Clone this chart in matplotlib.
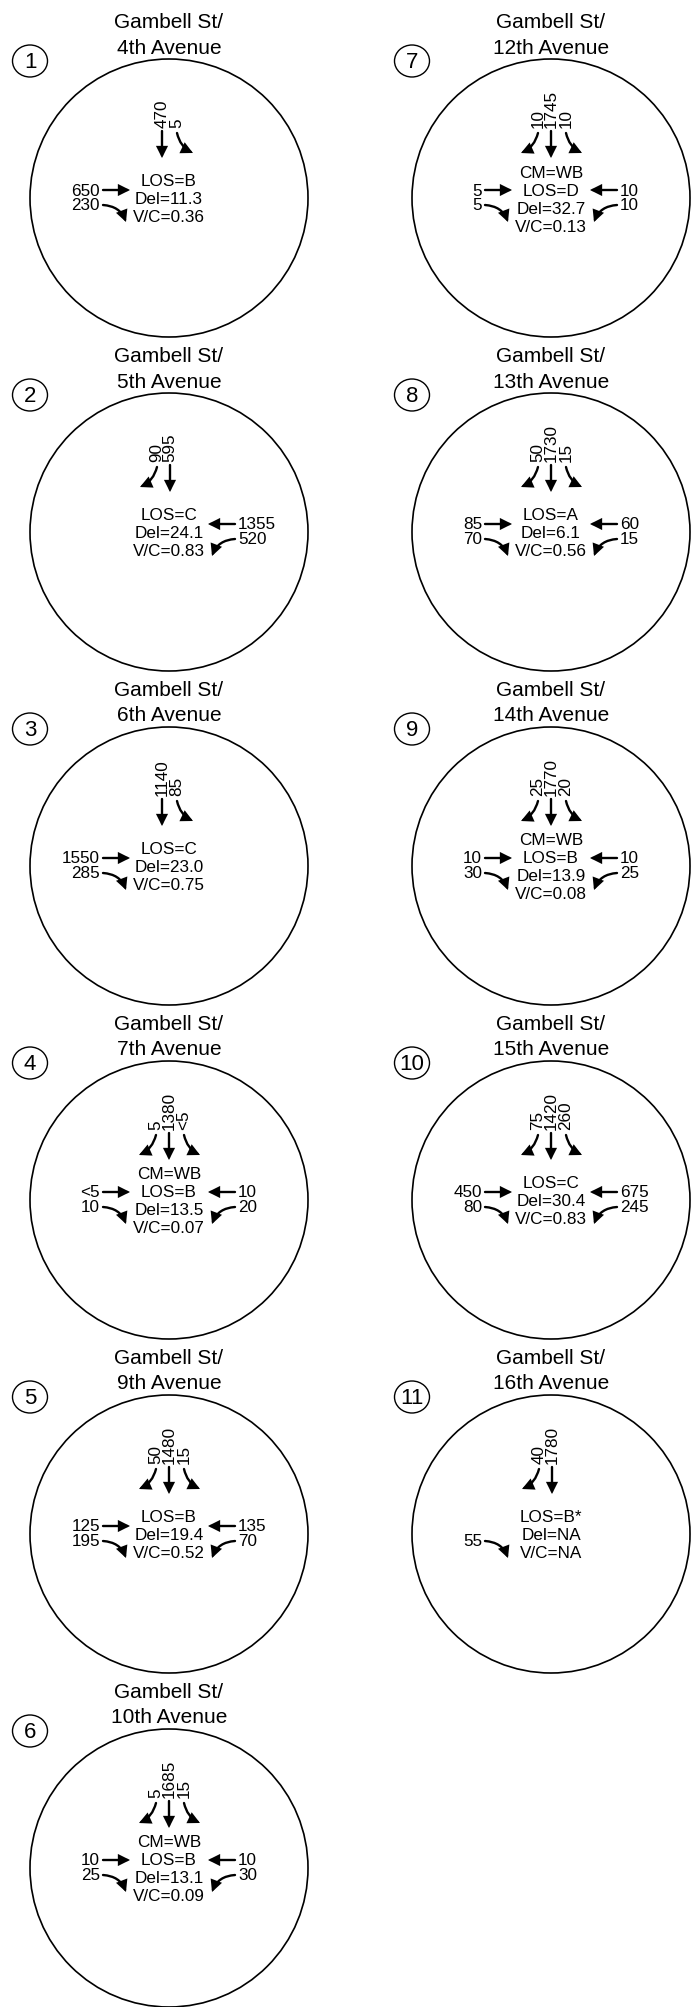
import matplotlib
matplotlib.use("Agg")
import matplotlib.pyplot as plt
from matplotlib import font_manager
from matplotlib.patches import Circle, Ellipse, FancyArrowPatch

# ---------------- data ----------------
panel_ids = [1, 2, 3, 4, 5, 6, 7, 8, 9, 10, 11]
street = "Gambell St/"
avenues = ["4th Avenue", "5th Avenue", "6th Avenue", "7th Avenue", "9th Avenue",
           "10th Avenue", "12th Avenue", "13th Avenue", "14th Avenue",
           "15th Avenue", "16th Avenue"]
# southbound approach (top): left-curving, through, right-curving
sb_left = ["", "90", "", "5", "50", "5", "10", "50", "25", "75", "40"]
sb_thru = ["470", "595", "1140", "1380", "1480", "1685", "1745", "1730", "1770", "1420", "1780"]
sb_right = ["5", "", "85", "<5", "15", "15", "10", "15", "20", "260", ""]
# eastbound approach (left side): through, right turn
eb_thru = ["650", "", "1550", "<5", "125", "10", "5", "85", "10", "450", ""]
eb_right = ["230", "", "285", "10", "195", "25", "5", "70", "30", "80", "55"]
# westbound approach (right side): through, left turn
wb_thru = ["", "1355", "", "10", "135", "10", "10", "60", "10", "675", ""]
wb_left = ["", "520", "", "20", "70", "30", "10", "15", "25", "245", ""]
# results
cm = ["", "", "", "WB", "", "WB", "WB", "", "WB", "", ""]
los = ["B", "C", "C", "B", "B", "B", "D", "A", "B", "C", "B*"]
delay = ["11.3", "24.1", "23.0", "13.5", "19.4", "13.1", "32.7", "6.1", "13.9", "30.4", "NA"]
vc = ["0.36", "0.83", "0.75", "0.07", "0.52", "0.09", "0.13", "0.56", "0.08", "0.83", "NA"]

# ---------------- fonts ----------------
names = {f.name for f in font_manager.fontManager.ttflist}
NARROW = "Liberation Sans Narrow" if "Liberation Sans Narrow" in names else "Liberation Sans"
REG = "Liberation Sans"

W, H = 698, 2008
fig = plt.figure(figsize=(W / 100, H / 100), dpi=100)
ax = fig.add_axes([0, 0, 1, 1])
ax.set_xlim(0, W)
ax.set_ylim(H, 0)
ax.axis("off")

R = 139
PITCH = 334
COL_X = [169, 551]
ARROW = "-|>,head_length=0.6,head_width=0.3"
LW = 1.7
MS = 10
RAD_SB = 0.24
RAD_SIDE = 0.32


def arrow(p0, p1, rad=0.0):
    a = FancyArrowPatch(p0, p1, arrowstyle=ARROW, mutation_scale=MS,
                        connectionstyle=f"arc3,rad={rad}", lw=LW, color="black",
                        shrinkA=0, shrinkB=0, joinstyle="miter")
    ax.add_patch(a)


def small_text(x, y, s, **kw):
    ax.text(x, y, s, fontsize=12.3, family=NARROW, color="black", **kw)


for i, pid in enumerate(panel_ids):
    col = 0 if i < 6 else 1
    row = i if i < 6 else i - 6
    cx = COL_X[col]
    top = row * PITCH
    cy = top + 199

    # title
    ax.text(cx, top + 23, street, ha="center", va="center", fontsize=15, family=REG)
    ax.text(cx, top + 48, avenues[i], ha="center", va="center", fontsize=15, family=REG)
    # index bubble
    ax.add_patch(Ellipse((cx - R, top + 62), 35, 32, fill=False, lw=1.0, color="black"))
    ax.text(cx - R, top + 63, str(pid), ha="center", va="center", fontsize=16, family=NARROW)
    # main circle
    ax.add_patch(Circle((cx, cy), R, fill=False, lw=1.2, color="black"))

    # centre results
    lines = []
    if cm[i]:
        lines.append("CM=" + cm[i])
    lines += ["LOS=" + los[i], "Del=" + delay[i], "V/C=" + vc[i]]
    n = len(lines)
    sp = 18
    for k, s in enumerate(lines):
        small_text(cx, cy + 1 + (k - (n - 1) / 2) * sp, s, ha="center", va="center")

    # southbound movements
    has = [bool(sb_left[i]), bool(sb_thru[i]), bool(sb_right[i])]
    shift = 0
    if not has[0] and has[2]:
        shift = -7
    elif has[0] and not has[2]:
        shift = 1
    slots = [-13 + shift, 0 + shift, 15 + shift]
    if has[0]:
        lx = cx + slots[0]
        small_text(lx, cy - 71, sb_left[i], rotation=90, ha="center", va="bottom")
        arrow((lx, cy - 65), (lx - 17, cy - 45), rad=-RAD_SB)
    if has[1]:
        lx = cx + slots[1]
        small_text(lx, cy - 71, sb_thru[i], rotation=90, ha="center", va="bottom")
        arrow((lx, cy - 67), (lx, cy - 40))
    if has[2]:
        lx = cx + slots[2]
        small_text(lx, cy - 71, sb_right[i], rotation=90, ha="center", va="bottom")
        arrow((lx, cy - 65), (lx + 16, cy - 45), rad=RAD_SB)

    # eastbound (left side)
    if eb_thru[i]:
        small_text(cx - 69, cy - 8, eb_thru[i], ha="right", va="center")
        arrow((cx - 66, cy - 8), (cx - 39, cy - 8))
    if eb_right[i]:
        small_text(cx - 69, cy + 7, eb_right[i], ha="right", va="center")
        arrow((cx - 66, cy + 7), (cx - 43, cy + 24), rad=-RAD_SIDE)

    # westbound (right side)
    if wb_thru[i]:
        small_text(cx + 69, cy - 8, wb_thru[i], ha="left", va="center")
        arrow((cx + 66, cy - 8), (cx + 39, cy - 8))
    if wb_left[i]:
        small_text(cx + 69, cy + 7, wb_left[i], ha="left", va="center")
        arrow((cx + 66, cy + 7), (cx + 43, cy + 24), rad=RAD_SIDE)

fig.savefig("out.png", dpi=100, facecolor="white")
